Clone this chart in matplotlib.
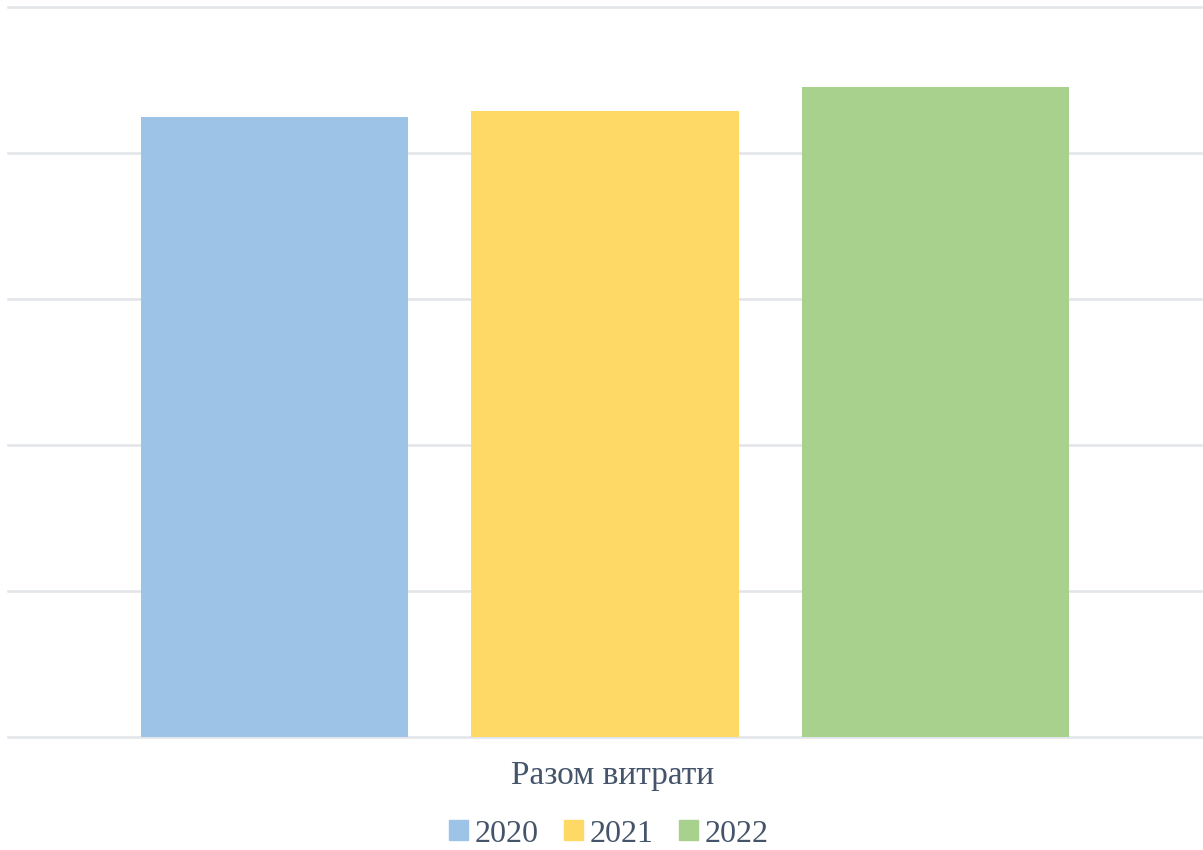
import matplotlib.pyplot as plt
from matplotlib.patches import Patch

category = "Разом витрати"
years = ["2020", "2021", "2022"]
values = [4.25, 4.29, 4.45]
colors = ["#9DC3E6", "#FFD966", "#A9D18E"]
text_color = "#44546A"

plt.rcParams['font.family'] = ['Liberation Serif', 'DejaVu Serif']

fig = plt.figure(figsize=(12.03, 8.5), dpi=100)
ax = fig.add_axes([8 / 1203, 1 - 737 / 850, 1193 / 1203, 730 / 850])

positions = range(len(years))
ax.bar(positions, values, width=0.808, color=colors, zorder=3)

ax.set_ylim(0, 5)
ax.set_xlim(-0.806, 2.803)
ax.set_yticks(range(0, 6))
ax.grid(axis='y', color='#E1E4E8', linewidth=1.8, zorder=0)
for gl in ax.get_ygridlines():
    gl.set_clip_on(False)
ax.set_xticks([])
ax.set_yticklabels([])
ax.tick_params(left=False, bottom=False)
for s in ax.spines.values():
    s.set_visible(False)

fig.text(613 / 1203, 1 - 776 / 850, category, ha='center', va='center',
         fontsize=24, color=text_color)

handles = [Patch(color=c, label=y) for c, y in zip(colors, years)]
fig.legend(handles=handles, loc='center', bbox_to_anchor=(609 / 1203, 1 - 834 / 850),
           ncol=3, frameon=False, fontsize=23, labelcolor=text_color,
           handlelength=0.6, handleheight=0.6, handletextpad=0.2, columnspacing=0.8)

fig.savefig('out.png', dpi=100)
